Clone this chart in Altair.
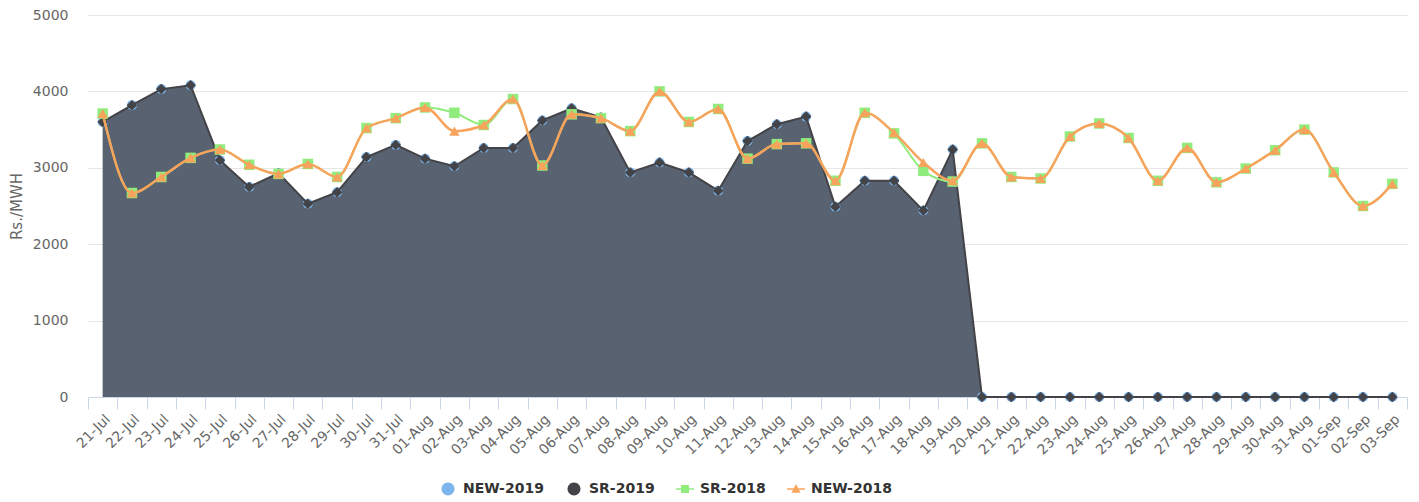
import altair as alt
import pandas as pd

dates = ["21-Jul", "22-Jul", "23-Jul", "24-Jul", "25-Jul", "26-Jul", "27-Jul", "28-Jul",
         "29-Jul", "30-Jul", "31-Jul", "01-Aug", "02-Aug", "03-Aug", "04-Aug", "05-Aug",
         "06-Aug", "07-Aug", "08-Aug", "09-Aug", "10-Aug", "11-Aug", "12-Aug", "13-Aug",
         "14-Aug", "15-Aug", "16-Aug", "17-Aug", "18-Aug", "19-Aug", "20-Aug", "21-Aug",
         "22-Aug", "23-Aug", "24-Aug", "25-Aug", "26-Aug", "27-Aug", "28-Aug", "29-Aug",
         "30-Aug", "31-Aug", "01-Sep", "02-Sep", "03-Sep"]

sr_2019 = [3600, 3820, 4030, 4080, 3100, 2750, 2930, 2530, 2680, 3140, 3300, 3120,
           3020, 3260, 3260, 3620, 3780, 3660, 2940, 3070, 2940, 2700, 3350, 3570,
           3670, 2490, 2830, 2830, 2440, 3240, 0, 0, 0, 0, 0, 0, 0, 0, 0, 0, 0, 0, 0, 0, 0]
new_2019 = [3600, 3820, 4030, 4080, 3100, 2750, 2930, 2530, 2680, 3140, 3300, 3120,
            3020, 3260, 3260, 3620, 3780, 3660, 2940, 3070, 2940, 2700, 3350, 3570,
            3670, 2490, 2830, 2830, 2440, 3240, 0, 0, 0, 0, 0, 0, 0, 0, 0, 0, 0, 0, 0, 0, 0]
sr_2018 = [3710, 2670, 2880, 3130, 3240, 3040, 2920, 3050, 2880, 3520, 3650, 3790,
           3720, 3560, 3900, 3030, 3700, 3650, 3480, 4000, 3600, 3770, 3120, 3310,
           3320, 2830, 3720, 3450, 2960, 2820, 3320, 2880, 2860, 3410, 3580, 3390,
           2830, 3260, 2810, 2990, 3230, 3500, 2940, 2500, 2790]
new_2018 = [3710, 2670, 2880, 3130, 3240, 3040, 2920, 3050, 2880, 3520, 3650, 3790,
            3480, 3560, 3900, 3030, 3700, 3650, 3480, 4000, 3600, 3770, 3120, 3310,
            3320, 2830, 3720, 3460, 3070, 2830, 3320, 2880, 2860, 3410, 3580, 3390,
            2830, 3260, 2810, 2990, 3230, 3500, 2940, 2500, 2790]

series_names = ["NEW-2019", "SR-2019", "SR-2018", "NEW-2018"]
series_colors = ["#7cb5ec", "#434348", "#90ed7d", "#f7a35c"]

rows = []
for name, vals in zip(series_names, [new_2019, sr_2019, sr_2018, new_2018]):
    for d, v in zip(dates, vals):
        rows.append({"date": d, "value": v, "series": name})
df = pd.DataFrame(rows)

circle_path = "M-0.72,0A0.72,0.72 0 1,0 0.72,0A0.72,0.72 0 1,0 -0.72,0Z"
square_line = "M-1,-0.09H-0.44V-0.44H0.44V-0.09H1V0.09H0.44V0.44H-0.44V0.09H-1Z"
tri_line = ("M-1,-0.08H-0.24L0,-0.55L0.24,-0.08H1V0.08H0.32L0.5,0.42H-0.5L-0.32,0.08H-1Z")

x_enc = alt.X("date:N", sort=dates,
              scale=alt.Scale(type="band", paddingInner=0, paddingOuter=0),
              axis=alt.Axis(title=None, labelAngle=-45, labelFontSize=14, labelColor="#666666",
                            tickBand="extent", tickSize=12, tickColor="#ccd6eb",
                            domainColor="#ccd6eb", labelPadding=3, grid=False,
                            labelOverlap=False))
y_enc = alt.Y("value:Q", scale=alt.Scale(domain=[0, 5000], nice=False),
              axis=alt.Axis(title="Rs./MWH", values=[0, 1000, 2000, 3000, 4000, 5000],
                            format="d",
                            grid=True, gridColor="#e6e6e6", domain=False, ticks=False,
                            tickSize=0, labelPadding=20, labelFontSize=14,
                            labelColor="#666666", titleFontSize=15, titleFontWeight="normal",
                            titleColor="#666666", titlePadding=8))

base = alt.Chart(df)

def sel(name):
    return base.transform_filter(alt.datum.series == name)

area = sel("SR-2019").mark_area(color="#586270", opacity=1).encode(x=x_enc, y=y_enc)
blue_pts = sel("NEW-2019").mark_point(filled=True, shape="circle", size=100,
                                      color="#7cb5ec", opacity=1).encode(x=x_enc, y=y_enc)
dark_line = sel("SR-2019").mark_line(color="#434348", strokeWidth=2).encode(x=x_enc, y=y_enc)
dark_pts = sel("SR-2019").mark_point(filled=True, shape="diamond", size=110,
                                     color="#434348", opacity=1).encode(x=x_enc, y=y_enc)
green_line = sel("SR-2018").mark_line(color="#90ed7d", strokeWidth=2,
                                      interpolate="monotone").encode(x=x_enc, y=y_enc)
green_pts = sel("SR-2018").mark_point(filled=True, shape="square", size=110,
                                      color="#90ed7d", opacity=1).encode(x=x_enc, y=y_enc)
orange_line = sel("NEW-2018").mark_line(color="#f7a35c", strokeWidth=2.5,
                                        interpolate="monotone").encode(x=x_enc, y=y_enc)
orange_pts = sel("NEW-2018").mark_point(filled=True, shape="triangle-up", size=110,
                                        color="#f7a35c", opacity=1).encode(x=x_enc, y=y_enc)

leg = alt.Legend(title=None, orient="none", direction="horizontal",
                 legendX=351, legendY=465, symbolSize=324,
                 symbolStrokeWidth=0, labelFontSize=14,
                 labelFontWeight="bold", labelColor="#333333",
                 labelOffset=6, columnPadding=21)

legend_layer = base.transform_filter("false").mark_point(filled=True, opacity=1).encode(
    x=x_enc, y=y_enc,
    color=alt.Color("series:N",
                    scale=alt.Scale(domain=series_names, range=series_colors),
                    legend=leg),
    shape=alt.Shape("series:N",
                    scale=alt.Scale(domain=series_names,
                                    range=[circle_path, circle_path, square_line, tri_line]),
                    legend=leg),
)

chart = alt.layer(area, blue_pts, dark_line, dark_pts, green_line, green_pts,
                  orange_line, orange_pts, legend_layer).properties(
    width=1319, height=382,
    autosize=alt.AutoSizeParams(type="none"),
    padding={"left": 80, "top": 7, "right": 3, "bottom": 100},
).configure(font="DejaVu Sans").configure_view(stroke=None)

chart.save("out.html", embed_options={"renderer": "svg", "actions": False})
